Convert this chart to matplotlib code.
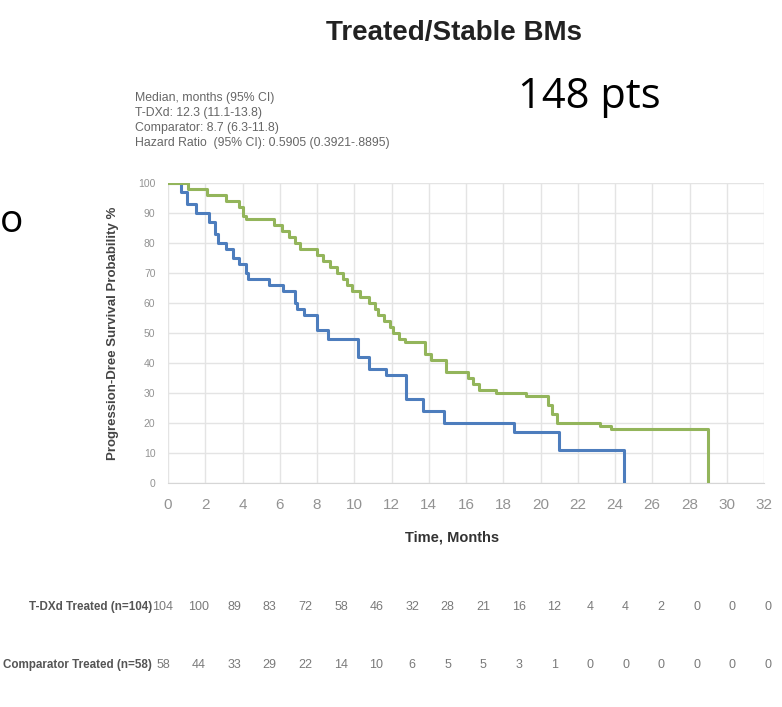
import matplotlib
matplotlib.use("Agg")
import matplotlib.pyplot as plt

# Kaplan-Meier steps (months, PFS %)
tdxd_time = [0, 1.1, 2.1, 3.1, 3.8, 4.0, 4.2, 5.7, 6.1, 6.5, 6.8, 7.1, 8.0, 8.3, 8.7,
             9.1, 9.4, 9.6, 9.9, 10.3, 10.8, 11.1, 11.3, 11.6, 11.9, 12.1, 12.4, 12.7,
             13.8, 14.1, 14.9, 16.1, 16.4, 16.7, 17.6, 19.2, 20.4, 20.6, 20.9, 23.2,
             23.8, 29.0]
tdxd_surv = [100, 98, 96, 94, 92, 89, 88, 86, 84, 82, 80, 78, 76, 74, 72,
             70, 68, 66, 64, 62, 60, 58, 56, 54, 52, 50, 48, 47,
             43, 41, 37, 35, 33, 31, 30, 29, 26, 23, 20, 19,
             18, 0]

comp_time = [0, 0.7, 1.0, 1.5, 2.2, 2.5, 2.7, 3.1, 3.5, 3.8, 4.2, 4.3, 5.4, 6.2,
             6.8, 6.9, 7.3, 8.0, 8.6, 10.2, 10.8, 11.7, 12.8, 13.7, 14.8, 18.6,
             21.0, 24.5]
comp_surv = [100, 97, 93, 90, 87, 83, 80, 78, 75, 73, 70, 68, 66, 64,
             60, 58, 56, 51, 48, 42, 38, 36, 28, 24, 20, 17,
             11, 0]

x_ticks = list(range(0, 33, 2))
y_ticks = list(range(0, 101, 10))

# numbers at risk
risk_labels = ["T-DXd Treated (n=104)", "Comparator Treated (n=58)"]
tdxd_risk = [104, 100, 89, 83, 72, 58, 46, 32, 28, 21, 16, 12, 4, 4, 2, 0, 0, 0]
comp_risk = [58, 44, 33, 29, 22, 14, 10, 6, 5, 5, 3, 1, 0, 0, 0, 0, 0, 0]

stats_lines = [
    "Median, months (95% CI)",
    "T-DXd: 12.3 (11.1-13.8)",
    "Comparator: 8.7 (6.3-11.8)",
    "Hazard Ratio  (95% CI): 0.5905 (0.3921-.8895)",
]

plt.rcParams["font.family"] = ["Liberation Sans", "DejaVu Sans"]

W, H = 782, 707
fig = plt.figure(figsize=(W / 100, H / 100), dpi=100)
fig.patch.set_facecolor("white")


def px(x0, y0, x1, y1):
    return [x0 / W, 1 - y1 / H, (x1 - x0) / W, (y1 - y0) / H]


blue = "#4d7dbd"
green = "#93b55b"

ax = fig.add_axes(px(168, 183, 764, 483))
ax.step(comp_time, comp_surv, where="post", color=blue, lw=2.2, zorder=3)
ax.step(tdxd_time, tdxd_surv, where="post", color=green, lw=2.2, zorder=3)
ax.set_xlim(0, 32)
ax.set_ylim(0, 100)
ax.set_xticks(x_ticks)
ax.set_yticks(y_ticks)
ax.grid(True, color="#e4e4e4", lw=1)
ax.set_axisbelow(True)
for s in ["top", "right", "left"]:
    ax.spines[s].set_visible(False)
ax.spines["bottom"].set_color("#d6d6d6")
ax.tick_params(axis="x", length=0, pad=11, labelsize=11, labelcolor="#939393")
ax.tick_params(axis="y", length=0, pad=9, labelsize=7.5, labelcolor="#939393")
ax.set_xlabel("Time, Months", fontsize=10.5, fontweight="bold", color="#333333", labelpad=13)
ax.xaxis.label.set_x((452 - 168) / 596)
ax.set_ylabel("Progression-Dree Survival Probability %", fontsize=9.5,
              fontweight="bold", color="#444444", labelpad=14)

fig.text(454 / W, 1 - 33 / H, "Treated/Stable BMs", ha="center", va="center",
         fontsize=20, fontweight="bold", color="#222222")
fig.text(518 / W, 1 - 97 / H, "148 pts", ha="left", va="center",
         fontsize=30, color="black", family=["Open Sans", "DejaVu Sans"])
fig.text(0 / W, 1 - 222 / H, "o", ha="left", va="center",
         fontsize=28, color="black", family=["Open Sans", "DejaVu Sans"])
for i, line in enumerate(stats_lines):
    fig.text(135 / W, 1 - (98 + 15 * i) / H, line, ha="left", va="center",
             fontsize=8.8, color="#666666")

# risk table
rax = fig.add_axes(px(163, 590, 768, 678))
rax.set_xlim(0, len(tdxd_risk) - 1)
rax.set_ylim(0, 2)
rax.axis("off")
for row, (label, vals) in enumerate(zip(risk_labels, [tdxd_risk, comp_risk])):
    y = 1.62 - row * 1.32
    rax.text(-0.3, y, label, ha="right", va="center", fontsize=8.4,
             fontweight="bold", color="#555555", clip_on=False)
    for i, v in enumerate(vals):
        rax.text(i, y, str(v), ha="center", va="center", fontsize=9,
                 color="#7a7a7a")

fig.savefig("out.png", dpi=100)
